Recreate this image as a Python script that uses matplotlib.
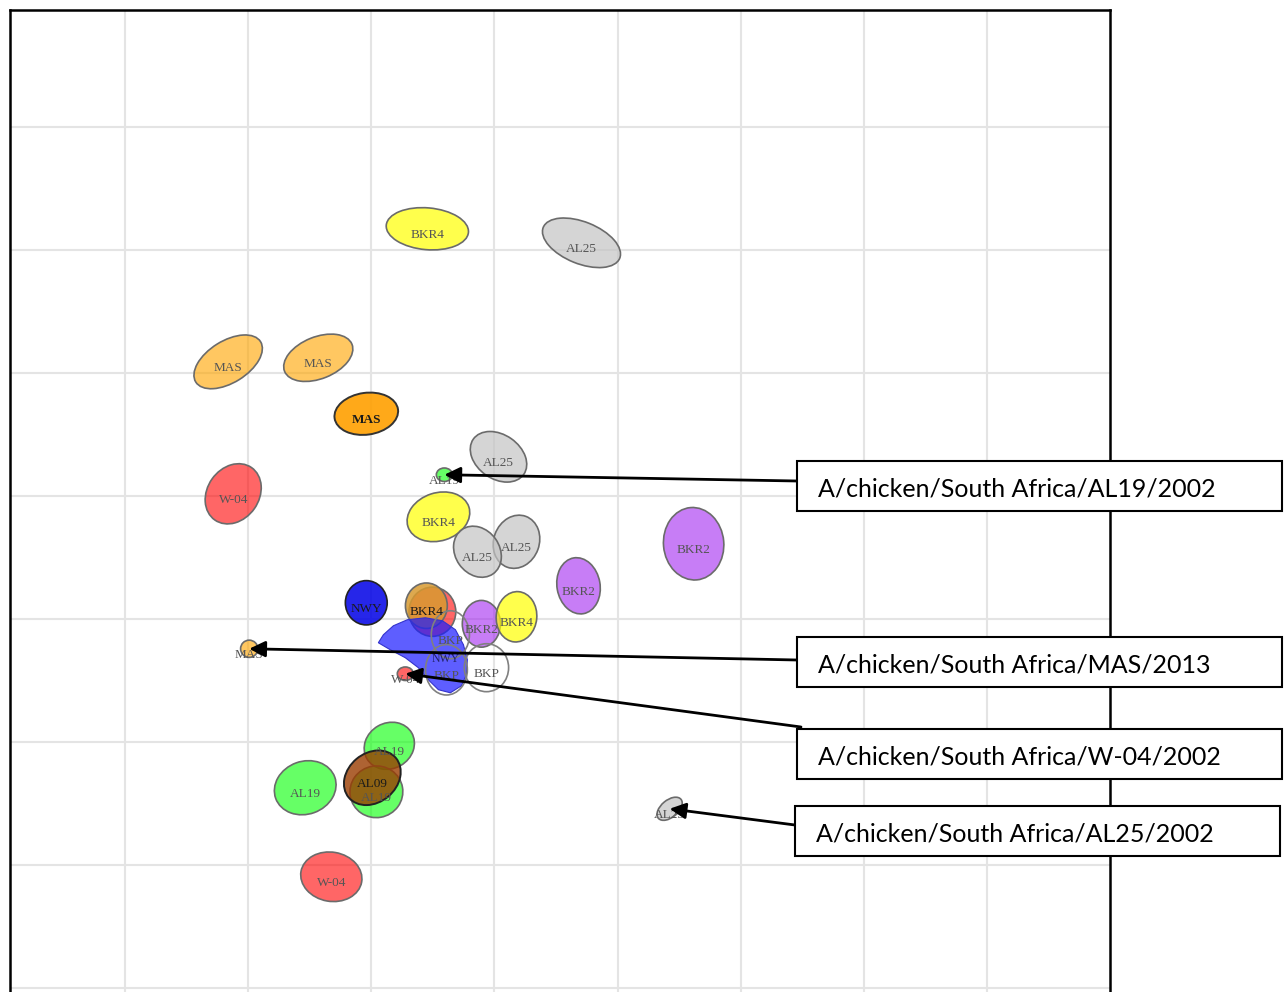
import matplotlib
matplotlib.use("Agg")
import matplotlib.pyplot as plt
from matplotlib.colors import to_rgba
from matplotlib.patches import Ellipse, Polygon, Rectangle

# antigenic map: one ellipse per strain (x, y, width, height, angle in map units)
ell_x = [2.455, 3.707, 0.837, 1.569, 1.959, 3.033, 0.878, 2.545, 3.179, 2.862,
         4.618, 3.683, 1.959, 2.496, 2.447, 2.894, 3.179, 2.642, 2.610, 2.935,
         2.593, 1.008, 2.276, 2.146, 1.463, 2.041, 2.008, 1.675, 4.423]
ell_y = [6.171, 6.057, 5.089, 5.122, 4.667, 4.317, 4.016, 3.829, 3.626, 3.545,
         3.610, 3.268, 3.130, 3.057, 3.106, 2.959, 3.016, 2.870, 2.585, 2.602,
         4.171, 2.756, 2.553, 1.967, 1.626, 1.593, 1.707, 0.902, 1.455]
ell_w = [0.67, 0.67, 0.62, 0.59, 0.52, 0.50, 0.52, 0.52, 0.44, 0.44,
         0.59, 0.46, 0.36, 0.40, 0.37, 0.38, 0.41, 0.39, 0.41, 0.39,
         0.13, 0.14, 0.13, 0.42, 0.51, 0.43, 0.50, 0.50, 0.24]
ell_h = [0.34, 0.34, 0.34, 0.34, 0.34, 0.36, 0.42, 0.39, 0.37, 0.36,
         0.49, 0.35, 0.34, 0.38, 0.34, 0.31, 0.33, 0.31, 0.34, 0.36,
         0.11, 0.14, 0.11, 0.37, 0.43, 0.42, 0.40, 0.40, 0.14]
ell_ang = [-5, -22, 32, 22, 8, -35, 55, 18, 70, -55,
           -85, -80, 90, 90, 90, 90, 85, 90, 90, 90,
           0, 0, 0, 30, 20, 10, 40, -10, 40]
ell_grp = ["yellow", "gray", "orange", "orange", "orange2", "gray", "red", "yellow", "gray", "gray",
           "purple", "purple", "blue", "red", "orange3", "purple", "yellow", "serum", "serum", "serum",
           "green", "orange", "red", "green", "green", "green", "brown", "red", "gray"]
ell_lab = ["BKR4", "AL25", "MAS", "MAS", "MAS", "AL25", "W-04", "BKR4", "AL25", "AL25",
           "BKR2", "BKR2", "NWY", "", "BKR4", "BKR2", "BKR4", "BKP", "BKP", "BKP",
           "AL19", "MAS", "W-04", "AL19", "AL19", "AL19", "AL09", "W-04", "AL25"]

# NWY blob outline
blob_x = [2.057, 2.098, 2.179, 2.293, 2.439, 2.577, 2.683, 2.748, 2.780, 2.772,
          2.732, 2.642, 2.545, 2.463, 2.382, 2.276, 2.154]
blob_y = [2.805, 2.870, 2.943, 2.992, 3.008, 2.984, 2.911, 2.789, 2.667, 2.545,
          2.455, 2.398, 2.423, 2.504, 2.602, 2.683, 2.748]

# called-out strains: index into the ellipse list + caption
note_idx = [20, 21, 22, 28]
note_txt = ["A/chicken/South Africa/AL19/2002",
            "A/chicken/South Africa/MAS/2013",
            "A/chicken/South Africa/W-04/2002",
            "A/chicken/South Africa/AL25/2002"]

styles = {
    "yellow":  dict(fc="#ffff00", alpha=0.7, ec="#6b6b6b", lw=1.2),
    "gray":    dict(fc="#c4c4c4", alpha=0.7, ec="#6b6b6b", lw=1.2),
    "orange":  dict(fc="#ffa500", alpha=0.62, ec="#6b6b6b", lw=1.2),
    "orange2": dict(fc="#ffa000", alpha=0.9, ec="#333333", lw=1.4),
    "orange3": dict(fc="#d89a30", alpha=0.85, ec="#6b6b6b", lw=1.2),
    "red":     dict(fc="#ff0000", alpha=0.6, ec="#6b6b6b", lw=1.2),
    "green":   dict(fc="#00ff00", alpha=0.6, ec="#6b6b6b", lw=1.2),
    "purple":  dict(fc="#a020f0", alpha=0.58, ec="#6b6b6b", lw=1.2),
    "blue":    dict(fc="#0000e6", alpha=0.85, ec="#222222", lw=1.2),
    "brown":   dict(fc="#9a3c00", alpha=0.8, ec="#222222", lw=1.4),
    "serum":   dict(fc="none", alpha=0.0, ec="#808080", lw=1.2),
}
dark_labels = {"orange2", "orange3", "blue", "brown"}

fig = plt.figure(figsize=(12.84, 9.92), dpi=100)
ax = fig.add_axes([10 / 1284, -8 / 992, 1100 / 1284, 990 / 992])
ax.set_xlim(-0.935, 8.0)
ax.set_ylim(-0.1, 7.95)

ax.set_xticks(range(0, 8))
ax.set_yticks(range(0, 8))
ax.tick_params(length=0, labelbottom=False, labelleft=False)
ax.grid(True, color="#e4e4e4", lw=1.5)
ax.set_axisbelow(True)
for s in ax.spines.values():
    s.set_linewidth(1.8)
    s.set_color("black")

for i in range(len(ell_x)):
    st = styles[ell_grp[i]]
    fc = "none" if st["fc"] == "none" else to_rgba(st["fc"], st["alpha"])
    ax.add_patch(Ellipse((ell_x[i], ell_y[i]), ell_w[i], ell_h[i], angle=ell_ang[i],
                         facecolor=fc, edgecolor=st["ec"], lw=st["lw"], zorder=2))
    if i == 14:
        # blob sits on top of the BKR4/red pair
        ax.add_patch(Polygon(list(zip(blob_x, blob_y)), closed=True,
                             facecolor=to_rgba("#1a1aff", 0.7),
                             edgecolor="#3333cc", lw=0.8, zorder=2))
        ax.text(2.60, 2.67, "NWY", fontsize=8.5, family="Liberation Serif",
                ha="center", va="center", color="#222266", zorder=3)

for i in range(len(ell_x)):
    if not ell_lab[i]:
        continue
    dark = ell_grp[i] in dark_labels
    ax.text(ell_x[i], ell_y[i] - 0.05, ell_lab[i], fontsize=9.5, family="Liberation Serif",
            ha="center", va="center", color="#1a1a1a" if dark else "#555555",
            fontweight="bold" if ell_grp[i] == "orange2" else "normal", zorder=3)

# caption boxes drawn on a pixel overlay
over = fig.add_axes([0, 0, 1, 1], zorder=5)
over.set_xlim(0, 1284)
over.set_ylim(992, 0)
over.axis("off")

box_left = [797, 797, 797, 795]
box_top = [461, 637, 729, 806]
tail_x = [797, 797, 801, 795]
tail_y = [481, 660, 727, 825]
for k in range(len(note_txt)):
    over.add_patch(Rectangle((box_left[k], box_top[k]), 485, 50, facecolor="white",
                             edgecolor="black", lw=1.5))
    over.text(box_left[k] + 21, box_top[k] + 28, note_txt[k], fontsize=18, family="Lato",
              ha="left", va="center", color="black")
    j = note_idx[k]
    ax.annotate("", xy=(ell_x[j], ell_y[j]), xycoords="data",
                xytext=(tail_x[k], 992 - tail_y[k]), textcoords="figure pixels",
                annotation_clip=False,
                arrowprops=dict(arrowstyle="-|>", color="black", lw=2,
                                mutation_scale=24, shrinkA=0, shrinkB=0), zorder=4)

fig.savefig("out.png", dpi=100)
